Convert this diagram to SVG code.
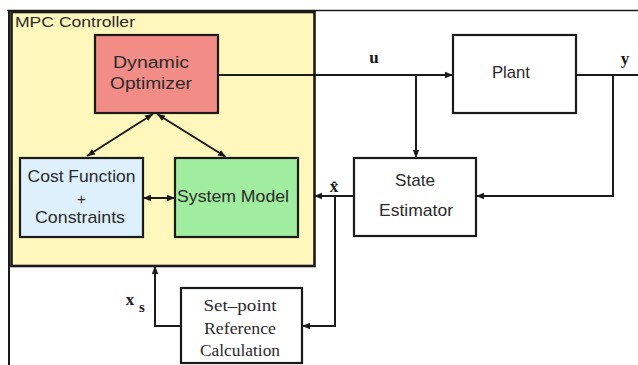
<svg xmlns="http://www.w3.org/2000/svg" width="638" height="365" viewBox="0 0 638 365">
  <style>
    .box { stroke: #1a1a1a; stroke-width: 2.2; }
    .lbl { font-family: "Liberation Sans", Arial, sans-serif; fill: #2a2a2a; }
    .ser { font-family: "Liberation Serif", "Times New Roman", serif; fill: #2a2a2a; }
    .sig { font-family: "Liberation Serif", "Times New Roman", serif; font-weight: bold; fill: #1a1a1a; }
    .wire { fill: none; stroke: #1a1a1a; stroke-width: 2; }
  </style>
  <defs>
    <marker id="arr" viewBox="0 0 10 10" refX="10" refY="5" markerWidth="4" markerHeight="4" orient="auto-start-reverse">
      <path d="M0,1 L10,5 L0,9 z" fill="#1a1a1a"/>
    </marker>
  </defs>

  <rect width="638" height="365" fill="#ffffff"/>

  <!-- outer frame -->
  <g id="frame">
    <line x1="7" y1="10.5" x2="638" y2="10.5" stroke="#1a1a1a" stroke-width="1.6"/>
    <line x1="9" y1="10" x2="9" y2="365" stroke="#1a1a1a" stroke-width="2"/>
  </g>

  <!-- MPC controller container -->
  <g id="mpc-controller">
    <rect x="11.5" y="12" width="303" height="254" fill="#FFF7BC" stroke="#1a1a1a" stroke-width="2.6"/>
    <text class="lbl" x="15" y="27" font-size="14" textLength="120" lengthAdjust="spacingAndGlyphs">MPC Controller</text>
  </g>

  <g id="dynamic-optimizer">
    <rect class="box" x="95" y="35" width="123" height="78" fill="#F28C87"/>
    <text class="lbl" x="151" y="68" font-size="16" text-anchor="middle" textLength="76" lengthAdjust="spacingAndGlyphs">Dynamic</text>
    <text class="lbl" x="151" y="89" font-size="16" text-anchor="middle" textLength="82" lengthAdjust="spacingAndGlyphs">Optimizer</text>
  </g>

  <g id="cost-function">
    <rect class="box" x="20" y="158" width="123" height="79" fill="#DDF0FB"/>
    <text class="lbl" x="81.5" y="182" font-size="17" text-anchor="middle" textLength="108" lengthAdjust="spacingAndGlyphs">Cost Function</text>
    <text class="lbl" x="81.5" y="204" font-size="15" text-anchor="middle">+</text>
    <text class="lbl" x="80" y="223" font-size="17" text-anchor="middle" textLength="90" lengthAdjust="spacingAndGlyphs">Constraints</text>
  </g>

  <g id="system-model">
    <rect class="box" x="175" y="158" width="123" height="79" fill="#A0EDA0"/>
    <text class="lbl" x="233" y="202" font-size="17" text-anchor="middle" textLength="112" lengthAdjust="spacingAndGlyphs">System Model</text>
  </g>

  <g id="plant">
    <rect class="box" x="453" y="35" width="123" height="78" fill="#ffffff"/>
    <text class="lbl" x="511" y="78" font-size="17" text-anchor="middle" textLength="38" lengthAdjust="spacingAndGlyphs">Plant</text>
  </g>

  <g id="state-estimator">
    <rect class="box" x="354" y="158" width="122" height="78" fill="#ffffff"/>
    <text class="lbl" x="415" y="186" font-size="17" text-anchor="middle" textLength="40" lengthAdjust="spacingAndGlyphs">State</text>
    <text class="lbl" x="416" y="216" font-size="17" text-anchor="middle" textLength="74" lengthAdjust="spacingAndGlyphs">Estimator</text>
  </g>

  <g id="setpoint-calculation">
    <rect class="box" x="181" y="288" width="121" height="75" fill="#ffffff"/>
    <text class="ser" x="240" y="311" font-size="16" text-anchor="middle" textLength="73" lengthAdjust="spacingAndGlyphs">Set–point</text>
    <text class="ser" x="240" y="334" font-size="16" text-anchor="middle" textLength="72" lengthAdjust="spacingAndGlyphs">Reference</text>
    <text class="ser" x="240" y="356" font-size="16" text-anchor="middle" textLength="80" lengthAdjust="spacingAndGlyphs">Calculation</text>
  </g>

  <!-- signal lines -->
  <g id="connectors">
    <path class="wire" d="M218,75 H453" marker-end="url(#arr)"/>
    <path class="wire" d="M416,75 V158" marker-end="url(#arr)"/>
    <path class="wire" d="M576,75 H638"/>
    <path class="wire" d="M613,75 V196 H476" marker-end="url(#arr)"/>
    <path class="wire" d="M354,196 H314" marker-end="url(#arr)"/>
    <path class="wire" d="M335,196 V326 H302" marker-end="url(#arr)"/>
    <path class="wire" d="M181,326 H155 V266" marker-end="url(#arr)"/>
    <path class="wire" d="M143,198 H175" marker-start="url(#arr)" marker-end="url(#arr)"/>
    <path class="wire" d="M87,156 L153,114" stroke-width="3" marker-start="url(#arr)" marker-end="url(#arr)"/>
    <path class="wire" d="M157,114 L226,157" stroke-width="1.5" marker-start="url(#arr)" marker-end="url(#arr)"/>
  </g>

  <!-- signal labels -->
  <g id="signal-labels">
    <text class="sig" x="374" y="63" font-size="17" text-anchor="middle">u</text>
    <text class="sig" x="625" y="64" font-size="17" text-anchor="middle">y</text>
    <text class="sig" x="334" y="192" font-size="17" text-anchor="middle">x̂</text>
    <text class="sig" x="130" y="305" font-size="17" text-anchor="middle">x</text>
    <text class="sig" x="142" y="312" font-size="15" text-anchor="middle">s</text>
  </g>
</svg>
